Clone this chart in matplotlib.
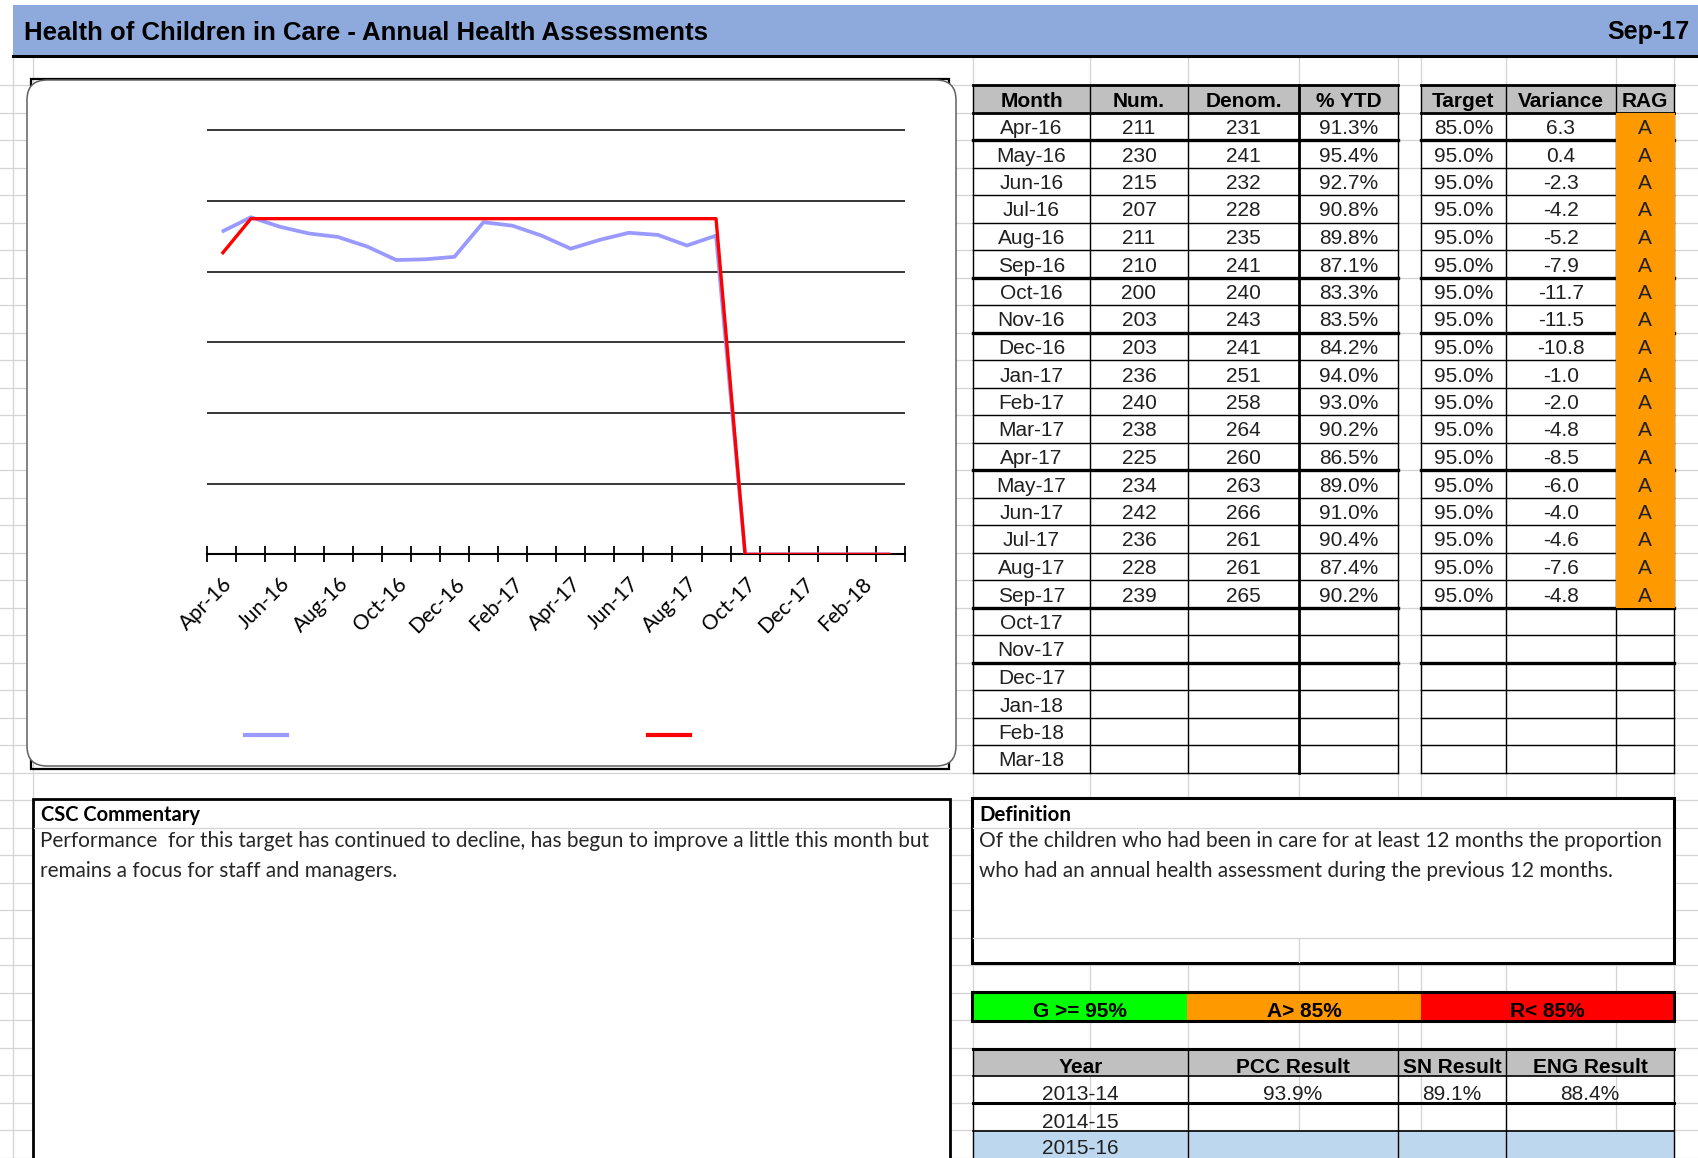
import numpy as np
import matplotlib
matplotlib.use('Agg')
import matplotlib.pyplot as plt
from matplotlib.patches import Rectangle, FancyBboxPatch

W, H = 1699, 1158

# ---- data ----
months = ['Apr-16', 'May-16', 'Jun-16', 'Jul-16', 'Aug-16', 'Sep-16', 'Oct-16', 'Nov-16',
          'Dec-16', 'Jan-17', 'Feb-17', 'Mar-17', 'Apr-17', 'May-17', 'Jun-17', 'Jul-17',
          'Aug-17', 'Sep-17', 'Oct-17', 'Nov-17', 'Dec-17', 'Jan-18', 'Feb-18', 'Mar-18']
num = [211, 230, 215, 207, 211, 210, 200, 203, 203, 236, 240, 238, 225, 234, 242, 236, 228, 239]
denom = [231, 241, 232, 228, 235, 241, 240, 243, 241, 251, 258, 264, 260, 263, 266, 261, 261, 265]
pct_ytd = [91.3, 95.4, 92.7, 90.8, 89.8, 87.1, 83.3, 83.5, 84.2, 94.0, 93.0, 90.2,
           86.5, 89.0, 91.0, 90.4, 87.4, 90.2]
target = [85.0, 95.0, 95.0, 95.0, 95.0, 95.0, 95.0, 95.0, 95.0, 95.0, 95.0, 95.0,
          95.0, 95.0, 95.0, 95.0, 95.0, 95.0]
variance = [6.3, 0.4, -2.3, -4.2, -5.2, -7.9, -11.7, -11.5, -10.8, -1.0, -2.0, -4.8,
            -8.5, -6.0, -4.0, -4.6, -7.6, -4.8]
rag = ['A', 'A', 'A', 'A', 'A', 'A', 'A', 'A', 'A', 'A', 'A', 'A', 'A', 'A', 'A', 'A', 'A', 'A']

# chart series (blank months are plotted as zero by the sheet)
chart_pct = [91.3, 95.4, 92.7, 90.8, 89.8, 87.1, 83.3, 83.5, 84.2, 94.0, 93.0, 90.2,
             86.5, 89.0, 91.0, 90.4, 87.4, 90.2, 0, 0, 0, 0, 0, 0]
chart_target = [85, 95, 95, 95, 95, 95, 95, 95, 95, 95, 95, 95,
                95, 95, 95, 95, 95, 95, 0, 0, 0, 0, 0, 0]

rag_bands = ['G >= 95%', 'A> 85%', 'R< 85%']
rag_colors = ['#00FF00', '#FF9900', '#FF0000']

years = ['2013-14', '2014-15', '2015-16']
pcc_result = ['93.9%', '', '']
sn_result = ['89.1%', '', '']
eng_result = ['88.4%', '', '']

commentary = ['Performance  for this target has continued to decline, has begun to improve a little this month but',
              'remains a focus for staff and managers.']
definition = ['Of the children who had been in care for at least 12 months the proportion',
              'who had an annual health assessment during the previous 12 months.']

ARIAL = 'Liberation Sans'
CALIBRI = 'Lato'
GRID = '#D4D4D4'

fig = plt.figure(figsize=(W / 100, H / 100), dpi=100)
sheet = fig.add_axes([0, 0, 1, 1])
sheet.set_xlim(0, W)
sheet.set_ylim(H, 0)
sheet.axis('off')


def fit_width(txt, width_px):
    # scale a text so that it spans the width it has in the screenshot
    bb = txt.get_window_extent(renderer=fig.canvas.get_renderer())
    txt.set_fontsize(txt.get_fontsize() * width_px / bb.width)
    return txt.get_fontsize()


# Excel cell gridlines
row_h = 27.5
for y in 57.5 + row_h * np.arange(1, 41):
    sheet.plot([0, W], [y, y], color=GRID, lw=0.9, zorder=0)
for x in [12.7, 33, 973, 1090, 1188, 1299, 1398, 1421, 1506, 1616, 1674]:
    sheet.plot([x, x], [57, H], color=GRID, lw=0.9, zorder=0)

# Title band
sheet.add_patch(Rectangle((12.7, 4.7), W - 12.7, 51, fc='#8EA9DB', ec='none', zorder=1))
sheet.plot([12.7, W], [56.3, 56.3], color='black', lw=2.2, zorder=2)
title = sheet.text(24, 39.5, 'Health of Children in Care - Annual Health Assessments', family=ARIAL,
                   fontsize=18, fontweight='bold', va='baseline', zorder=3)
fit_width(title, 683)
sheet.text(1690, 39.5, 'Sep-17', family=ARIAL, fontsize=18, fontweight='bold',
           ha='right', va='baseline', zorder=3)

# Chart frame
sheet.add_patch(Rectangle((31.5, 79), 917.5, 690, fill=False, ec='black', lw=1.6, zorder=1.5))
sheet.add_patch(FancyBboxPatch((27, 80), 929, 686, boxstyle='round,pad=0,rounding_size=20',
                               fc='white', ec='#606060', lw=1.1, zorder=2))

# Chart
y_top = 121
px_per_unit = (554.4 - 130.3) / 120
ax_h = y_top * px_per_unit
ax = fig.add_axes([207.3 / W, 1 - 554.4 / H, (905 - 207.3) / W, ax_h / H])
ax.set_zorder(5)
ax.patch.set_alpha(0)
x = np.arange(len(months))
ax.plot(x, chart_pct, color='#9999FF', lw=2.7, solid_capstyle='butt', zorder=3)
ax.plot(x, chart_target, color='#FF0000', lw=2.4, solid_capstyle='butt', zorder=4)
ax.set_xlim(-0.5, len(months) - 0.5)
ax.set_ylim(0, y_top)
ax.set_yticks(np.arange(20, 121, 20))
ax.yaxis.grid(True, color='black', lw=1.1)
ax.set_axisbelow(True)
ax.tick_params(axis='y', length=0, labelleft=False)
for side in ['left', 'right', 'top']:
    ax.spines[side].set_visible(False)
ax.spines['bottom'].set_linewidth(1.5)
ax.set_xticks(x[::2])
ax.set_xticklabels(months[::2], rotation=45, ha='right', va='top', rotation_mode='anchor',
                   family=CALIBRI, fontsize=15)
ax.set_xticks(np.arange(-0.5, len(months), 1), minor=True)
ax.tick_params(axis='x', which='major', length=0, pad=14)
ax.tick_params(axis='x', which='minor', length=11, width=1.3, direction='inout')

# legend keys (the legend text is blank on the sheet)
sheet.plot([245, 287], [735, 735], color='#9999FF', lw=3, zorder=6)
sheet.plot([648, 690], [735, 735], color='#FF0000', lw=3, zorder=6)

# Monthly table
top = 85
t1_cols = [973, 1090, 1188, 1299, 1398]
t2_cols = [1421, 1506, 1616, 1674]
bottom = top + row_h * (len(months) + 1)
thick_after = [0, 5, 7, 12, 17, 19]

for cols in [t1_cols, t2_cols]:
    sheet.add_patch(Rectangle((cols[0], top), cols[-1] - cols[0], row_h, fc='#C0C0C0', ec='none', zorder=1))
    for i in range(len(months) + 2):
        y = top + row_h * i
        lw = 1.0
        if i <= 1:
            lw = 2.0
        elif i - 2 in thick_after:
            lw = 2.4
        sheet.plot([cols[0], cols[-1]], [y, y], color='black', lw=lw, zorder=2)
    for c in cols:
        lw = 2.0 if c == 1299 else 1.0
        sheet.plot([c, c], [top, bottom], color='black', lw=lw, zorder=2)

headers1 = ['Month', 'Num.', 'Denom.', '% YTD']
headers2 = ['Target', 'Variance', 'RAG']
for cols, heads in [(t1_cols, headers1), (t2_cols, headers2)]:
    for j, h in enumerate(heads):
        sheet.text((cols[j] + cols[j + 1]) / 2, top + row_h - 5.8, h, family=ARIAL, fontsize=15,
                   fontweight='bold', ha='center', va='baseline', zorder=3)

cell_kw = dict(family=ARIAL, fontsize=15, ha='center', va='baseline', color='#202020', zorder=4)
for i, m in enumerate(months):
    yb = top + row_h * (i + 2) - 6
    sheet.text((t1_cols[0] + t1_cols[1]) / 2, yb, m, **cell_kw)
    if i < len(num):
        sheet.text((t1_cols[1] + t1_cols[2]) / 2, yb, str(num[i]), **cell_kw)
        sheet.text((t1_cols[2] + t1_cols[3]) / 2, yb, str(denom[i]), **cell_kw)
        sheet.text((t1_cols[3] + t1_cols[4]) / 2, yb, f'{pct_ytd[i]:.1f}%', **cell_kw)
        sheet.text((t2_cols[0] + t2_cols[1]) / 2, yb, f'{target[i]:.1f}%', **cell_kw)
        sheet.text((t2_cols[1] + t2_cols[2]) / 2, yb, f'{variance[i]:.1f}', **cell_kw)
        sheet.add_patch(Rectangle((t2_cols[2], top + row_h * (i + 1) + 0.8), t2_cols[3] - t2_cols[2] + 1,
                                  row_h, fc='#FF9900', ec='none', zorder=3))
        sheet.text((t2_cols[2] + t2_cols[3]) / 2, yb, rag[i], **cell_kw)

# CSC commentary box
sheet.add_patch(Rectangle((33, 799), 917, 400, fc='white', ec='black', lw=2, zorder=2))
sheet.plot([34, 949], [827.5, 827.5], color=GRID, lw=0.9, zorder=3)
head = sheet.text(41, 821, 'CSC Commentary', family=CALIBRI, fontweight='bold', fontsize=13,
                  va='baseline', zorder=4)
fit_width(head, 159)
t = sheet.text(40, 847, commentary[0], family=CALIBRI, fontsize=13, va='baseline', color='#262626', zorder=4)
fs = fit_width(t, 888)
sheet.text(40, 877, commentary[1], family=CALIBRI, fontsize=fs, va='baseline', color='#262626', zorder=4)

# Definition box
sheet.add_patch(Rectangle((972, 797.5), 701.6, 165.8, fc='white', ec='black', lw=2.2, zorder=2))
sheet.plot([973, 1672], [827.5, 827.5], color=GRID, lw=0.9, zorder=3)
sheet.plot([973, 1672], [937.5, 937.5], color=GRID, lw=0.9, zorder=3)
sheet.plot([1299, 1299], [937.5, 962], color=GRID, lw=0.9, zorder=3)
head = sheet.text(979, 821, 'Definition', family=CALIBRI, fontweight='bold', fontsize=13,
                  va='baseline', zorder=4)
fit_width(head, 92)
t = sheet.text(979, 847, definition[0], family=CALIBRI, fontsize=13, va='baseline', color='#262626', zorder=4)
fs = fit_width(t, 680)
sheet.text(979, 877, definition[1], family=CALIBRI, fontsize=fs, va='baseline', color='#262626', zorder=4)

# RAG key
rag_x = [972, 1187, 1421, 1673.6]
for j, (lab, col) in enumerate(zip(rag_bands, rag_colors)):
    sheet.add_patch(Rectangle((rag_x[j], 991.7), rag_x[j + 1] - rag_x[j], 29, fc=col, ec='none', zorder=2))
    sheet.text((rag_x[j] + rag_x[j + 1]) / 2, 1017, lab, family=ARIAL, fontsize=15, fontweight='bold',
               ha='center', va='baseline', zorder=4)
sheet.add_patch(Rectangle((972, 991.7), 701.6, 29, fill=False, ec='black', lw=2.2, zorder=3))

# Benchmark table
b_cols = [973, 1188, 1398, 1506, 1674]
b_rows = [1049, 1076, 1103, 1131, 1158]
sheet.add_patch(Rectangle((973, 1049), 701, 27, fc='#C0C0C0', ec='none', zorder=1))
sheet.add_patch(Rectangle((973, 1131), 701, 27, fc='#BDD7EE', ec='none', zorder=1))
for k, y in enumerate(b_rows[:-1]):
    lw = 2.2 if k in (0, 2) else 1.2
    sheet.plot([973, 1674], [y, y], color='black', lw=lw, zorder=2)
for c in b_cols:
    sheet.plot([c, c], [1049, H], color='black', lw=1.0, zorder=2)
for j, h in enumerate(['Year', 'PCC Result', 'SN Result', 'ENG Result']):
    sheet.text((b_cols[j] + b_cols[j + 1]) / 2, 1073, h, family=ARIAL, fontsize=15, fontweight='bold',
               ha='center', va='baseline', zorder=3)
for i, yr in enumerate(years):
    yb = b_rows[i + 2] - 3.5
    row = [yr, pcc_result[i], sn_result[i], eng_result[i]]
    for j, v in enumerate(row):
        sheet.text((b_cols[j] + b_cols[j + 1]) / 2, yb, v, **cell_kw)

fig.savefig('out.png', dpi=100)
